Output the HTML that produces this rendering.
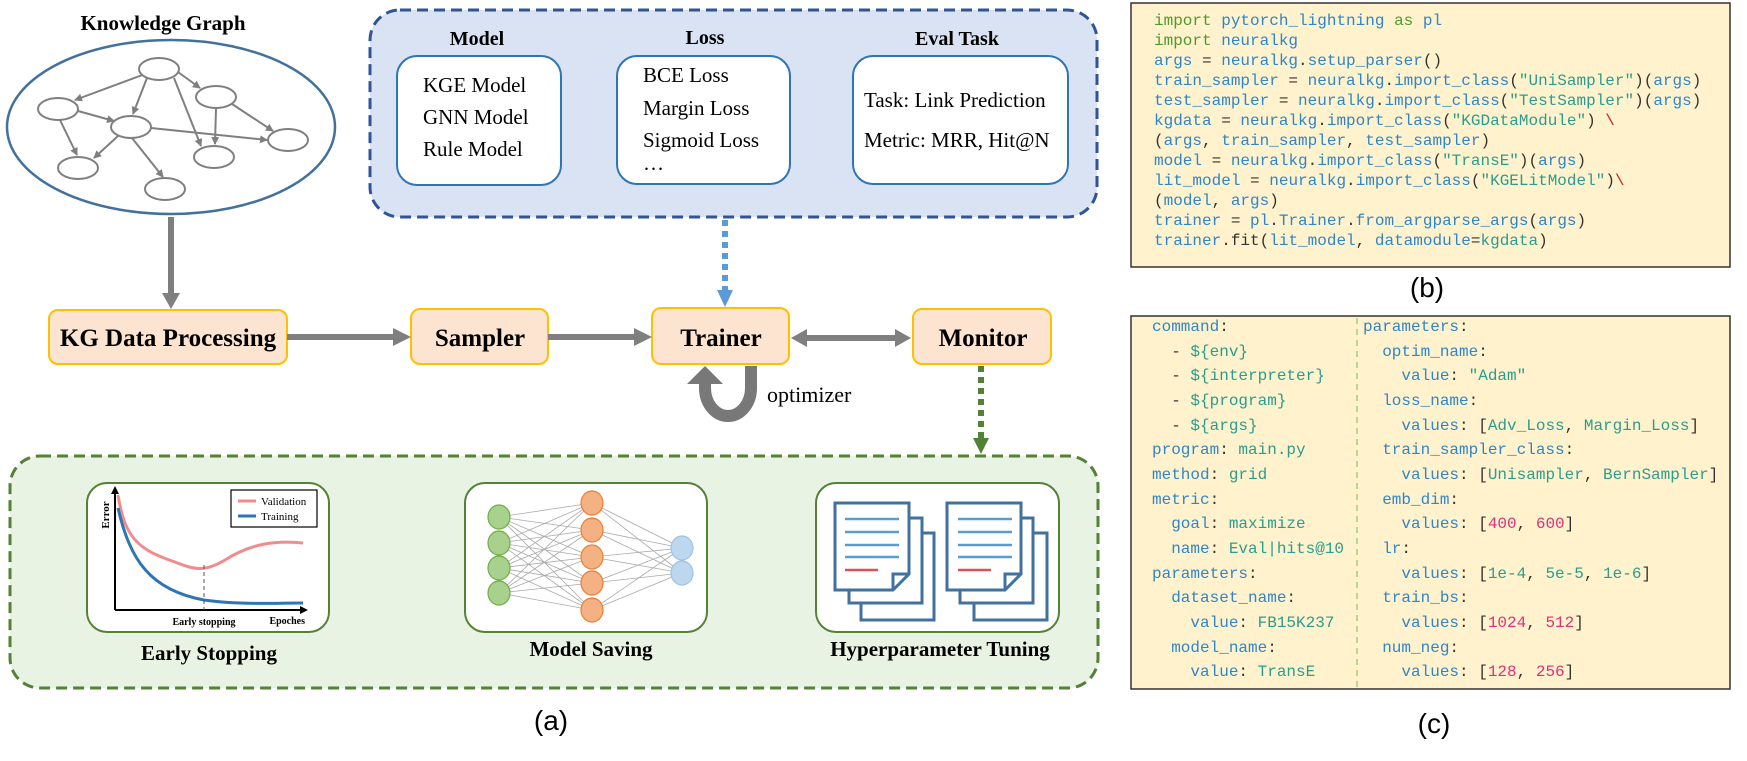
<!DOCTYPE html>
<html><head><meta charset="utf-8"><style>
html,body{margin:0;padding:0;background:#fff;}
svg{display:block;}
.s{font-family:"Liberation Serif",serif;}
.m{font-family:"Liberation Mono",monospace;font-size:16px;}
.k{fill:#2f86c9}.v{fill:#2a9d8f}.n{fill:#e0307a}.p{fill:#333}.g{fill:#4f9a2a}.r{fill:#d02020}
</style></head><body>
<svg width="1747" height="761" viewBox="0 0 1747 761" xmlns="http://www.w3.org/2000/svg">
<defs>
<marker id="ga" markerWidth="8" markerHeight="8" refX="7" refY="4" orient="auto" markerUnits="userSpaceOnUse"><path d="M0,0 L8,4 L0,8 z" fill="#7f7f7f"/></marker>
<marker id="sa" markerWidth="8" markerHeight="8" refX="7" refY="4" orient="auto" markerUnits="userSpaceOnUse"><path d="M0,1 L8,4 L0,7 z" fill="#aaa"/></marker>
</defs>

<!-- Knowledge graph -->
<text x="163" y="30" text-anchor="middle" class="s" font-size="21" font-weight="bold">Knowledge Graph</text>
<ellipse cx="171" cy="127" rx="164" ry="87" fill="#fff" stroke="#41719c" stroke-width="2.5"/>
<g stroke="#7f7f7f" stroke-width="2" fill="none">
<line x1="145" y1="74" x2="75" y2="100" marker-end="url(#ga)"/>
<line x1="147" y1="78" x2="133" y2="114" marker-end="url(#ga)"/>
<line x1="174" y1="78" x2="201" y2="146" marker-end="url(#ga)"/>
<line x1="178" y1="72" x2="200" y2="88" marker-end="url(#ga)"/>
<line x1="78" y1="111" x2="114" y2="121" marker-end="url(#ga)"/>
<line x1="60" y1="120" x2="77" y2="155" marker-end="url(#ga)"/>
<line x1="118" y1="136" x2="94" y2="158" marker-end="url(#ga)"/>
<line x1="132" y1="138" x2="163" y2="177" marker-end="url(#ga)"/>
<line x1="151" y1="128" x2="267" y2="140" marker-end="url(#ga)"/>
<line x1="216" y1="108" x2="215" y2="144" marker-end="url(#ga)"/>
<line x1="232" y1="104" x2="273" y2="131" marker-end="url(#ga)"/>
</g>
<g fill="#fff" stroke="#7f7f7f" stroke-width="2">
<ellipse cx="159" cy="69" rx="20" ry="11"/><ellipse cx="58" cy="109" rx="20" ry="11"/>
<ellipse cx="216" cy="97" rx="20" ry="11"/><ellipse cx="131" cy="127" rx="20" ry="11"/>
<ellipse cx="288" cy="140" rx="20" ry="11"/><ellipse cx="214" cy="157" rx="20" ry="11"/>
<ellipse cx="78" cy="168" rx="20" ry="11"/><ellipse cx="165" cy="189" rx="20" ry="11"/>
</g>
<rect x="168" y="217" width="6" height="78" fill="#7f7f7f"/>
<polygon points="162,293 180,293 171,309" fill="#7f7f7f"/>

<!-- Blue config box -->
<rect x="370" y="10" width="727" height="207" rx="30" fill="#dae3f3" stroke="#2f5597" stroke-width="3" stroke-dasharray="11 6"/>
<text x="477" y="45" text-anchor="middle" class="s" font-size="20" font-weight="bold">Model</text>
<text x="705" y="44" text-anchor="middle" class="s" font-size="20" font-weight="bold">Loss</text>
<text x="957" y="45" text-anchor="middle" class="s" font-size="20" font-weight="bold">Eval Task</text>
<rect x="397" y="56" width="164" height="129" rx="20" fill="#fff" stroke="#2e75b6" stroke-width="2"/>
<rect x="617" y="56" width="173" height="128" rx="20" fill="#fff" stroke="#2e75b6" stroke-width="2"/>
<rect x="853" y="56" width="215" height="128" rx="20" fill="#fff" stroke="#2e75b6" stroke-width="2"/>
<g class="s" font-size="21">
<text x="423" y="92">KGE Model</text><text x="423" y="124">GNN Model</text><text x="423" y="156">Rule Model</text>
<text x="643" y="82">BCE Loss</text><text x="643" y="115">Margin Loss</text><text x="643" y="147">Sigmoid Loss</text><text x="643" y="170">…</text>
<text x="864" y="107">Task: Link Prediction</text><text x="864" y="147">Metric: MRR, Hit@N</text>
</g>
<line x1="725" y1="220" x2="725" y2="292" stroke="#5b9bd5" stroke-width="6" stroke-dasharray="6 5"/>
<polygon points="717,290 733,290 725,307" fill="#5b9bd5"/>

<!-- Flow boxes -->
<g fill="#fce4d0" stroke="#ffc000" stroke-width="2">
<rect x="49" y="310" width="238" height="54" rx="9"/>
<rect x="411" y="309" width="137" height="55" rx="9"/>
<rect x="652" y="308" width="137" height="56" rx="9"/>
<rect x="913" y="309" width="138" height="55" rx="9"/>
</g>
<g class="s" font-size="25" font-weight="bold" text-anchor="middle">
<text x="168" y="346">KG Data Processing</text>
<text x="480" y="346">Sampler</text>
<text x="721" y="346">Trainer</text>
<text x="983" y="346">Monitor</text>
</g>
<rect x="287" y="334" width="108" height="6" fill="#7f7f7f"/><polygon points="393,328 411,337 393,346" fill="#7f7f7f"/>
<rect x="548" y="334" width="88" height="6" fill="#7f7f7f"/><polygon points="634,328 652,337 634,346" fill="#7f7f7f"/>
<rect x="805" y="335" width="92" height="6" fill="#7f7f7f"/>
<polygon points="807,329 791,338 807,347" fill="#7f7f7f"/><polygon points="895,329 911,338 895,347" fill="#7f7f7f"/>
<!-- optimizer loop -->
<path d="M751,366 L751,388 A23,28 0 0 1 705,388 L705,382" fill="none" stroke="#787878" stroke-width="12"/>
<polygon points="687,384 723,384 705,366" fill="#787878"/>
<text x="767" y="402" class="s" font-size="22">optimizer</text>
<line x1="981" y1="366" x2="981" y2="440" stroke="#538135" stroke-width="6" stroke-dasharray="6 5"/>
<polygon points="973,438 989,438 981,454" fill="#538135"/>

<!-- Green box -->
<rect x="10" y="456" width="1088" height="232" rx="30" fill="#e9f3e3" stroke="#538135" stroke-width="3" stroke-dasharray="11 6"/>
<g fill="#fff" stroke="#548235" stroke-width="2">
<rect x="87" y="483" width="242" height="149" rx="20"/>
<rect x="465" y="483" width="242" height="149" rx="20"/>
<rect x="816" y="483" width="243" height="149" rx="20"/>
</g>
<g class="s" font-size="21" font-weight="bold" text-anchor="middle">
<text x="209" y="660">Early Stopping</text><text x="591" y="656">Model Saving</text><text x="940" y="656">Hyperparameter Tuning</text>
</g>
<!-- early stopping chart -->
<line x1="115" y1="610" x2="115" y2="492" stroke="#000" stroke-width="2"/><polygon points="111,494 119,494 115,486" fill="#000"/>
<line x1="115" y1="610" x2="302" y2="610" stroke="#000" stroke-width="2"/><polygon points="300,606 308,610 300,614" fill="#000"/>
<path d="M118,495 C125,540 140,550 175,562 C195,570 205,572 225,560 C250,544 275,540 303,543" fill="none" stroke="#f08c8c" stroke-width="3"/>
<path d="M118,508 C130,560 150,590 204,600 C240,605 270,603 303,603" fill="none" stroke="#2e75b6" stroke-width="3"/>
<line x1="204" y1="565" x2="204" y2="610" stroke="#555" stroke-width="1" stroke-dasharray="4 3"/>
<rect x="231" y="490" width="86" height="37" fill="#fff" stroke="#000" stroke-width="1.2"/>
<line x1="238" y1="501" x2="256" y2="501" stroke="#f08c8c" stroke-width="3"/><line x1="238" y1="516" x2="256" y2="516" stroke="#2e75b6" stroke-width="3"/>
<text x="261" y="505" class="s" font-size="11">Validation</text><text x="261" y="520" class="s" font-size="11">Training</text>
<text x="109" y="515" class="s" font-size="11" font-weight="bold" transform="rotate(-90 109 515)" text-anchor="middle">Error</text>
<text x="204" y="625" class="s" font-size="10" font-weight="bold" text-anchor="middle">Early stopping</text>
<text x="305" y="624" class="s" font-size="10" font-weight="bold" text-anchor="end">Epoches</text>
<!-- NN -->
<g stroke="#aaa" stroke-width="0.8">
<path d="M499,517L592,503M499,517L592,530M499,517L592,557M499,517L592,583M499,517L592,610M499,543L592,503M499,543L592,530M499,543L592,557M499,543L592,583M499,543L592,610M499,568L592,503M499,568L592,530M499,568L592,557M499,568L592,583M499,568L592,610M499,593L592,503M499,593L592,530M499,593L592,557M499,593L592,583M499,593L592,610M592,503L682,548M592,530L682,548M592,557L682,548M592,583L682,548M592,610L682,548M592,503L682,573M592,530L682,573M592,557L682,573M592,583L682,573M592,610L682,573"/>
</g>
<g stroke-width="1.2">
<g fill="#a9d18e" stroke="#70ad47"><ellipse cx="499" cy="517" rx="11" ry="12"/><ellipse cx="499" cy="543" rx="11" ry="12"/><ellipse cx="499" cy="568" rx="11" ry="12"/><ellipse cx="499" cy="593" rx="11" ry="12"/></g>
<g fill="#f4b183" stroke="#ed7d31"><ellipse cx="592" cy="503" rx="11" ry="12"/><ellipse cx="592" cy="530" rx="11" ry="12"/><ellipse cx="592" cy="557" rx="11" ry="12"/><ellipse cx="592" cy="583" rx="11" ry="12"/><ellipse cx="592" cy="610" rx="11" ry="12"/></g>
<g fill="#bdd7ee" stroke="#9dc3e6"><ellipse cx="682" cy="548" rx="11" ry="12"/><ellipse cx="682" cy="573" rx="11" ry="12"/></g>
</g>
<!-- docs -->
<g fill="#fff" stroke="#41719c" stroke-width="3">
<rect x="861" y="533" width="73" height="87"/><rect x="849" y="518" width="73" height="85"/>
<path d="M835,503 L909,503 L909,574 L893,590 L835,590 Z"/><path d="M909,574 L893,574 L893,590" fill="none"/>
<rect x="974" y="533" width="73" height="87"/><rect x="960" y="518" width="73" height="85"/>
<path d="M947,503 L1021,503 L1021,574 L1005,590 L947,590 Z"/><path d="M1021,574 L1005,574 L1005,590" fill="none"/>
</g>
<g stroke="#5b9bd5" stroke-width="2.5">
<path d="M845,519H899M845,532H899M845,545H899M845,557H899M958,519H1012M958,532H1012M958,545H1012M958,557H1012"/>
</g>
<g stroke="#e05050" stroke-width="2.5"><path d="M845,570H878M958,570H991"/></g>

<text x="551" y="730" text-anchor="middle" font-family="Liberation Sans,sans-serif" font-size="28">(a)</text>
<text x="1427" y="297" text-anchor="middle" font-family="Liberation Sans,sans-serif" font-size="28">(b)</text>
<text x="1434" y="733" text-anchor="middle" font-family="Liberation Sans,sans-serif" font-size="28">(c)</text>

<!-- code box b -->
<rect x="1131" y="3" width="599" height="264" fill="#fff2cc" stroke="#333" stroke-width="1.5"/>
<g class="m">
<text x="1154" y="25"><tspan class="g">import</tspan> <tspan class="k">pytorch_lightning</tspan> <tspan class="g">as</tspan> <tspan class="k">pl</tspan></text>
<text x="1154" y="45"><tspan class="g">import</tspan> <tspan class="k">neuralkg</tspan></text>
<text x="1154" y="65"><tspan class="k">args</tspan><tspan class="p"> = </tspan><tspan class="k">neuralkg</tspan><tspan class="p">.</tspan><tspan class="k">setup_parser</tspan><tspan class="p">()</tspan></text>
<text x="1154" y="85"><tspan class="k">train_sampler</tspan><tspan class="p"> = </tspan><tspan class="k">neuralkg</tspan><tspan class="p">.</tspan><tspan class="k">import_class</tspan><tspan class="p">(</tspan><tspan class="v">"UniSampler"</tspan><tspan class="p">)(</tspan><tspan class="k">args</tspan><tspan class="p">)</tspan></text>
<text x="1154" y="105"><tspan class="k">test_sampler</tspan><tspan class="p"> = </tspan><tspan class="k">neuralkg</tspan><tspan class="p">.</tspan><tspan class="k">import_class</tspan><tspan class="p">(</tspan><tspan class="v">"TestSampler"</tspan><tspan class="p">)(</tspan><tspan class="k">args</tspan><tspan class="p">)</tspan></text>
<text x="1154" y="125"><tspan class="k">kgdata</tspan><tspan class="p"> = </tspan><tspan class="k">neuralkg</tspan><tspan class="p">.</tspan><tspan class="k">import_class</tspan><tspan class="p">(</tspan><tspan class="v">"KGDataModule"</tspan><tspan class="p">) </tspan><tspan class="r">\</tspan></text>
<text x="1154" y="145"><tspan class="p">(</tspan><tspan class="k">args</tspan><tspan class="p">, </tspan><tspan class="k">train_sampler</tspan><tspan class="p">, </tspan><tspan class="k">test_sampler</tspan><tspan class="p">)</tspan></text>
<text x="1154" y="165"><tspan class="k">model</tspan><tspan class="p"> = </tspan><tspan class="k">neuralkg</tspan><tspan class="p">.</tspan><tspan class="k">import_class</tspan><tspan class="p">(</tspan><tspan class="v">"TransE"</tspan><tspan class="p">)(</tspan><tspan class="k">args</tspan><tspan class="p">)</tspan></text>
<text x="1154" y="185"><tspan class="k">lit_model</tspan><tspan class="p"> = </tspan><tspan class="k">neuralkg</tspan><tspan class="p">.</tspan><tspan class="k">import_class</tspan><tspan class="p">(</tspan><tspan class="v">"KGELitModel"</tspan><tspan class="p">)</tspan><tspan class="r">\</tspan></text>
<text x="1154" y="205"><tspan class="p">(</tspan><tspan class="k">model</tspan><tspan class="p">, </tspan><tspan class="k">args</tspan><tspan class="p">)</tspan></text>
<text x="1154" y="225"><tspan class="k">trainer</tspan><tspan class="p"> = </tspan><tspan class="k">pl</tspan><tspan class="p">.</tspan><tspan class="k">Trainer</tspan><tspan class="p">.</tspan><tspan class="k">from_argparse_args</tspan><tspan class="p">(</tspan><tspan class="k">args</tspan><tspan class="p">)</tspan></text>
<text x="1154" y="245"><tspan class="k">trainer</tspan><tspan class="p">.fit(</tspan><tspan class="k">lit_model</tspan><tspan class="p">, </tspan><tspan class="k">datamodule</tspan><tspan class="p">=</tspan><tspan class="v">kgdata</tspan><tspan class="p">)</tspan></text>
</g>

<!-- code box c -->
<rect x="1131" y="316" width="599" height="373" fill="#fff2cc" stroke="#333" stroke-width="1.5"/>
<line x1="1357" y1="318" x2="1357" y2="688" stroke="#9fcf7f" stroke-width="1.5" stroke-dasharray="6 5"/>
<g class="m">
<text x="1152" y="331" class="k">command<tspan class="p">:</tspan></text>
<text x="1152" y="356" xml:space="preserve" class="p">  - <tspan class="v">${env}</tspan></text>
<text x="1152" y="380" xml:space="preserve" class="p">  - <tspan class="v">${interpreter}</tspan></text>
<text x="1152" y="405" xml:space="preserve" class="p">  - <tspan class="v">${program}</tspan></text>
<text x="1152" y="430" xml:space="preserve" class="p">  - <tspan class="v">${args}</tspan></text>
<text x="1152" y="454" class="k">program<tspan class="p">: </tspan><tspan class="v">main.py</tspan></text>
<text x="1152" y="479" class="k">method<tspan class="p">: </tspan><tspan class="v">grid</tspan></text>
<text x="1152" y="504" class="k">metric<tspan class="p">:</tspan></text>
<text x="1152" y="528" xml:space="preserve" class="k">  goal<tspan class="p">: </tspan><tspan class="v">maximize</tspan></text>
<text x="1152" y="553" xml:space="preserve" class="k">  name<tspan class="p">: </tspan><tspan class="v">Eval|hits@10</tspan></text>
<text x="1152" y="578" class="k">parameters<tspan class="p">:</tspan></text>
<text x="1152" y="602" xml:space="preserve" class="k">  dataset_name<tspan class="p">:</tspan></text>
<text x="1152" y="627" xml:space="preserve" class="k">    value<tspan class="p">: </tspan><tspan class="v">FB15K237</tspan></text>
<text x="1152" y="652" xml:space="preserve" class="k">  model_name<tspan class="p">:</tspan></text>
<text x="1152" y="676" xml:space="preserve" class="k">    value<tspan class="p">: </tspan><tspan class="v">TransE</tspan></text>

<text x="1363" y="331" class="k">parameters<tspan class="p">:</tspan></text>
<text x="1363" y="356" xml:space="preserve" class="k">  optim_name<tspan class="p">:</tspan></text>
<text x="1363" y="380" xml:space="preserve" class="k">    value<tspan class="p">: </tspan><tspan class="v">"Adam"</tspan></text>
<text x="1363" y="405" xml:space="preserve" class="k">  loss_name<tspan class="p">:</tspan></text>
<text x="1363" y="430" xml:space="preserve" class="k">    values<tspan class="p">: [</tspan><tspan class="v">Adv_Loss</tspan><tspan class="p">, </tspan><tspan class="v">Margin_Loss</tspan><tspan class="p">]</tspan></text>
<text x="1363" y="454" xml:space="preserve" class="k">  train_sampler_class<tspan class="p">:</tspan></text>
<text x="1363" y="479" xml:space="preserve" class="k">    values<tspan class="p">: [</tspan><tspan class="v">Unisampler</tspan><tspan class="p">, </tspan><tspan class="v">BernSampler</tspan><tspan class="p">]</tspan></text>
<text x="1363" y="504" xml:space="preserve" class="k">  emb_dim<tspan class="p">:</tspan></text>
<text x="1363" y="528" xml:space="preserve" class="k">    values<tspan class="p">: [</tspan><tspan class="n">400</tspan><tspan class="p">, </tspan><tspan class="n">600</tspan><tspan class="p">]</tspan></text>
<text x="1363" y="553" xml:space="preserve" class="k">  lr<tspan class="p">:</tspan></text>
<text x="1363" y="578" xml:space="preserve" class="k">    values<tspan class="p">: [</tspan><tspan class="v">1e-4</tspan><tspan class="p">, </tspan><tspan class="v">5e-5</tspan><tspan class="p">, </tspan><tspan class="v">1e-6</tspan><tspan class="p">]</tspan></text>
<text x="1363" y="602" xml:space="preserve" class="k">  train_bs<tspan class="p">:</tspan></text>
<text x="1363" y="627" xml:space="preserve" class="k">    values<tspan class="p">: [</tspan><tspan class="n">1024</tspan><tspan class="p">, </tspan><tspan class="n">512</tspan><tspan class="p">]</tspan></text>
<text x="1363" y="652" xml:space="preserve" class="k">  num_neg<tspan class="p">:</tspan></text>
<text x="1363" y="676" xml:space="preserve" class="k">    values<tspan class="p">: [</tspan><tspan class="n">128</tspan><tspan class="p">, </tspan><tspan class="n">256</tspan><tspan class="p">]</tspan></text>
</g>
</svg>
</body></html>
